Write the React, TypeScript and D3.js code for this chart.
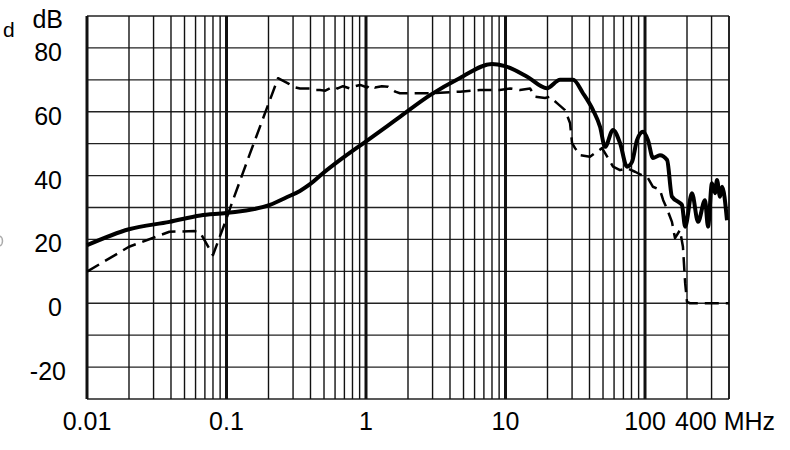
import React from "react";
import * as d3 from "d3";

const solidFreq = [0.01,0.02,0.039,0.065,0.1,0.205,0.27,0.336,0.397,0.484,0.652,0.99,1.42,1.75,2.88,4.72,8.0,9.9,14.3,19.8,24.6,30.5,35.9,42.4,47.6,51.7,59,66.2,74.3,80.7,87.6,96.8,105,114,128,144,156,178,184,194,217,240,269,283,302,318,328,345,357,387];
const solidDb = [18.2,23.2,25.5,27.5,28.3,30.8,33.2,35.2,37.3,40.5,44.9,50.6,55.5,58.4,65.2,70.6,75,74.3,71,67.4,70,70,65.8,60.5,55.3,49,54.3,50.2,42.8,44.3,51.1,53.7,51.1,45.5,46.4,44.9,33.4,31.4,30.8,24,34.5,25.5,32.3,24,37.6,34.5,38.6,33.4,36.5,26];

const dashFreq = [0.01,0.02,0.039,0.059,0.065,0.08,0.0975,0.111,0.147,0.195,0.234,0.276,0.301,0.336,0.397,0.433,0.468,0.511,0.579,0.627,0.684,0.767,0.835,0.907,1.02,1.06,1.16,1.30,1.44,1.62,1.75,2.88,4.72,6.56,9.1,10.8,12.7,15,16.3,19.2,20.8,23.4,26.7,29,30,31.5,34.2,40.3,45.3,49.2,54.3,59,66.2,74.3,84.8,100,105,114,128,135,144,156,164,178,187,194,200,210,400];
const dashDb = [9.9,17.7,22.4,22.6,22,15.1,25.2,32.2,46.8,61.2,70.5,68.9,67.8,67.3,67.3,66.8,66.8,66.6,67.8,67.3,68,67.3,68,68.4,67.6,68.4,67.6,68,67.8,66.3,65.8,65.8,66.3,66.8,66.8,67.3,66.8,67.3,64.7,64.3,64.7,62.7,60.5,56.5,50.2,48.6,46.4,45.9,47.5,48.6,45.5,42.8,41.7,42.3,41.2,39.6,39.2,36.5,35.5,32.3,29.5,25.5,20.4,22.9,17.7,6.3,0.4,0,0];

const yTicks = [80, 60, 40, 20, 0, -20];
const xDecades = [0.01, 0.1, 1, 10, 100];
const xDecadeLabels = ["0.01", "0.1", "1", "10", "100"];
const hGrid = d3.range(-30, 91, 10);

const W = 790, H = 450;
const left = 87, right = 729, top = 16, bottom = 399;

export default function App() {
  const x = d3.scaleLog().domain([0.01, 400]).range([left, right]);
  const y = d3.scaleLinear().domain([-30, 90]).range([bottom, top]);

  const vGrid: { v: number; major: boolean }[] = [];
  for (const dec of [0.01, 0.1, 1, 10, 100]) {
    for (let m = 1; m <= 9; m++) {
      const v = dec * m;
      if (v > 400 + 1e-9) break;
      vGrid.push({ v, major: m === 1 });
    }
  }
  vGrid.push({ v: 400, major: false });

  const solid = solidFreq.map((f, i) => [f, solidDb[i]] as [number, number]);
  const dashed = dashFreq.map((f, i) => [f, dashDb[i]] as [number, number]);
  const solidLine = d3.line<[number, number]>().x((d) => x(d[0])).y((d) => y(d[1])).curve(d3.curveMonotoneX);
  const dashLine = d3.line<[number, number]>().x((d) => x(d[0])).y((d) => y(d[1])).curve(d3.curveLinear);

  const font = "'Liberation Sans', Arial, sans-serif";

  return (
    <svg width={W} height={H} style={{ position: "absolute", left: 0, top: 0, background: "#fff" }} fontFamily={font}>
      <rect x={0} y={0} width={W} height={H} fill="#fff" />
      {hGrid.map((v) => (
        <line key={"h" + v} x1={left} x2={right} y1={y(v)} y2={y(v)} stroke="#222" strokeWidth={1.4} />
      ))}
      {vGrid.map((g) => (
        <line key={"v" + g.v} x1={x(g.v)} x2={x(g.v)} y1={top} y2={bottom} stroke="#111" strokeWidth={g.major ? 3 : 1.4} />
      ))}
      <path d={dashLine(dashed) || ""} fill="none" stroke="#000" strokeWidth={2.5} strokeDasharray="14 7" strokeLinejoin="round" />
      <path d={solidLine(solid) || ""} fill="none" stroke="#000" strokeWidth={4} strokeLinejoin="round" />
      {yTicks.map((v) => (
        <text key={"yt" + v} x={v < 0 ? 66 : 62} y={y(v) + 13} textAnchor="end" fontSize={25} fill="#000">
          {v}
        </text>
      ))}
      <text x={63} y={28} textAnchor="end" fontSize={25} fill="#000">dB</text>
      <text x={3} y={37} fontSize={21} fill="#000">d</text>
      <ellipse cx={-1} cy={241} rx={3.5} ry={5} fill="none" stroke="#aaa" strokeWidth={1.5} />
      {xDecades.map((v, i) => (
        <text key={"xt" + v} x={x(v)} y={430} textAnchor="middle" fontSize={25} fill="#000">
          {xDecadeLabels[i]}
        </text>
      ))}
      <text x={x(400) - 54} y={430} textAnchor="start" fontSize={25} fill="#000">400 MHz</text>
    </svg>
  );
}
